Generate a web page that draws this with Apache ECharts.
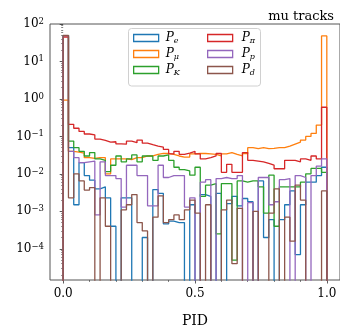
<!DOCTYPE html>
<html>
<head>
<meta charset="utf-8">
<script src="https://cdn.jsdelivr.net/npm/echarts@6/dist/echarts.min.js"></script>
<style>
  html, body { margin: 0; padding: 0; background: #ffffff; }
  #chart { width: 340px; height: 333px; }
</style>
</head>
<body>
<div id="chart"></div>
<script>
// PID response histograms for muon tracks: 50 density bins on [0, 1], log-scaled counts.
const binCount = 50;
const binWidth = 0.02;

const pE = [49, 0.05, 0.0015, 0.02, 0.009, 0.0068, 0.004, 0.0045, 0.0023, 0.0004,
  0, 0.0023, 0.0023, 0, 0, 0.0002, 0, 0.0038, 0.003, 0.00046,
  0.00055, 0.0005, 0.0005, 0, 0.0015, 0, 0.0028, 0.0025, 0, 0.003,
  0, 0.0016, 0.0025, 0.0014, 0.0022, 0.0018, 0, 0.0065, 0.0002, 0.0006,
  0, 0.0006, 0.0015, 0.0035, 0.00007, 0.0015, 0.006, 0.006, 0.009, 0.015];

const pMu = [0.93, 0.04, 0.038, 0.036, 0.027, 0.026, 0.027, 0.027, 0.01, 0.025,
  0.025, 0.025, 0.024, 0.027, 0.027, 0.03, 0.03, 0.033, 0.035, 0.035,
  0.033, 0.03, 0.028, 0.028, 0.034, 0.035, 0.035, 0.034, 0.033, 0.03,
  0.034, 0.037, 0.033, 0.03, 0.035, 0.05, 0.047, 0.05, 0.047, 0.048,
  0.05, 0.05, 0.055, 0.062, 0.07, 0.08, 0.1, 0.12, 0.2, 48];

const pK = [49, 0.075, 0.05, 0.04, 0.03, 0.037, 0.025, 0.023, 0.0115, 0.017,
  0.03, 0.021, 0.025, 0.032, 0.021, 0.03, 0.03, 0.023, 0.03, 0.032,
  0.023, 0.015, 0.013, 0.012, 0.0092, 0.015, 0.0025, 0.005, 0.0055, 0.00025,
  0.0055, 0.0055, 0.00005, 0.0065, 0.006, 0.0065, 0.0065, 0.0045, 0.0009, 0.0092,
  0.0004, 0.0045, 0.0045, 0.0045, 0.0045, 0.006, 0.01, 0.014, 0.014, 0.011];

const pPi = [45, 0.21, 0.165, 0.136, 0.116, 0.11, 0.085, 0.078, 0.07, 0.072,
  0.063, 0.062, 0.075, 0.068, 0.08, 0.066, 0.06, 0.055, 0.052, 0.045,
  0.034, 0.04, 0.033, 0.036, 0.04, 0.034, 0.025, 0.027, 0.03, 0.035,
  0.011, 0.018, 0.011, 0.011, 0.037, 0.023, 0.022, 0.021, 0.019, 0.017,
  0.0137, 0.0137, 0.023, 0.023, 0.021, 0.025, 0.023, 0.03, 0.025, 0.6];

const pP = [49, 0.04, 0.027, 0.02, 0.021, 0.022, 0.0008, 0.021, 0.009, 0.009,
  0.0075, 0.0013, 0.017, 0.017, 0.009, 0.009, 0.0014, 0.0014, 0.017, 0.008,
  0.009, 0.009, 0.009, 0.0013, 0.0023, 0, 0.006, 0.007, 0, 0.0075,
  0.008, 0.0075, 0.0075, 0.009, 0, 0.0017, 0, 0.008, 0.008, 0.0015,
  0.0018, 0.007, 0.0075, 0, 0.009, 0.008, 0, 0.009, 0.016, 0.025];

const pD = [49.5, 0.0023, 0.01, 0.0065, 0.0037, 0.0043, 0, 0.0023, 0.0004, 0,
  0, 0.0011, 0.0015, 0.0028, 0.0005, 0.0003, 0, 0.0007, 0.0026, 0.0005,
  0.0006, 0.0008, 0.0006, 0.0011, 0.002, 0.0009, 0, 0.0015, 0, 0,
  0.0011, 0.002, 0.00004, 0.0012, 0, 0, 0.001, 0, 0, 0.0009,
  0.004, 0, 0.0007, 0.00016, 0.005, 0.002, 0, 0, 0, 0.0035];

const seriesNames = ['P_e', 'P_mu', 'P_K', 'P_pi', 'P_p', 'P_d'];
const seriesValues = [pE, pMu, pK, pPi, pP, pD];
const seriesColors = ['#1f77b4', '#ff7f0e', '#2ca02c', '#d62728', '#9467bd', '#8c564b'];
const subscripts = { P_e: 'e', P_mu: 'μ', P_K: 'K', P_pi: 'π', P_p: 'p', P_d: 'd' };

const xMajorTicks = [0, 0.5, 1.0];
const xMinorTicks = [0.1, 0.2, 0.3, 0.4, 0.6, 0.7, 0.8, 0.9];
const yTickExponents = [-4, -3, -2, -1, 0, 1, 2];

const yMin = 1.47e-5, yMax = 100;
const FLOOR = 1e-8; // empty bins drop below the visible range

const edges = Array.from({ length: binCount + 1 }, (_, i) => +(i * binWidth).toFixed(2));
const yMajor = yTickExponents.map(e => Math.pow(10, e));
const yMinor = [];
for (let e = -5; e <= 1; e++) {
  for (let m = 2; m <= 9; m++) {
    const v = m * Math.pow(10, e);
    if (v >= yMin && v <= yMax) yMinor.push(v);
  }
}

// Outline of an unfilled histogram: up from the floor, across each bin, back down.
function stepOutline(vals) {
  const pts = [[edges[0], FLOOR]];
  vals.forEach((v, i) => {
    const y = v > 0 ? v : FLOOR;
    pts.push([edges[i], y], [edges[i + 1], y]);
  });
  pts.push([edges[edges.length - 1], FLOOR]);
  return pts;
}

const serif = 'DejaVu Serif';
const tickColor = '#333';

function legendItems(names) {
  return names.map(n => {
    const c = seriesColors[seriesNames.indexOf(n)];
    return { name: n, itemStyle: { color: 'rgba(0,0,0,0)', borderColor: c, borderWidth: 1.3 } };
  });
}

function legendBlock(left, names, textShift) {
  return {
    left, top: 32,
    data: legendItems(names),
    orient: 'vertical',
    icon: 'rect',
    itemWidth: 25,
    itemHeight: 7,
    itemGap: 3,
    padding: 0,
    selectedMode: false,
    formatter: n => '{p|P}{s|' + subscripts[n] + '}',
    textStyle: {
      color: '#000',
      rich: {
        p: { fontFamily: serif, fontStyle: 'italic', fontSize: 12, lineHeight: 14, verticalAlign: 'middle', padding: [0, 0, 0, textShift] },
        s: { fontFamily: serif, fontStyle: 'italic', fontSize: 8, lineHeight: 4, verticalAlign: 'bottom' }
      }
    },
    z: 10
  };
}

const chart = echarts.init(document.getElementById('chart'), null, { renderer: 'canvas' });

chart.setOption({
  animation: false,
  backgroundColor: '#ffffff',
  title: {
    text: 'mu tracks',
    right: 1,
    top: 5,
    textStyle: { fontFamily: serif, fontSize: 13, fontWeight: 'normal', color: '#000' }
  },
  grid: {
    left: 50, top: 24, width: 290, bottom: 46.3,
    show: true, borderColor: '#555', borderWidth: 1, backgroundColor: 'rgba(0,0,0,0)'
  },
  graphic: [{
    type: 'rect',
    shape: { x: 128.5, y: 28.5, width: 132, height: 57.5, r: 3 },
    style: { fill: 'rgba(255,255,255,0.8)', stroke: '#d0d0d0', lineWidth: 1 },
    z: 9
  }],
  legend: [
    legendBlock(133, ['P_e', 'P_mu', 'P_K'], 2),
    legendBlock(207, ['P_pi', 'P_p', 'P_d'], 4)
  ],
  xAxis: [{
    type: 'value', min: -0.05, max: 1.05,
    name: 'PID', nameLocation: 'middle', nameGap: 34,
    nameTextStyle: { fontFamily: serif, fontSize: 14, color: '#000' },
    axisLine: { show: false },
    splitLine: { show: false },
    axisTick: { show: true, customValues: xMajorTicks, length: 3.5, lineStyle: { color: tickColor, width: 0.8 } },
    axisLabel: {
      customValues: xMajorTicks, margin: 8,
      fontFamily: serif, fontSize: 12, color: '#000',
      formatter: v => v.toFixed(1)
    }
  }, {
    type: 'value', min: -0.05, max: 1.05, position: 'bottom',
    axisLine: { show: false }, splitLine: { show: false },
    axisTick: { show: true, customValues: xMinorTicks, length: 2, lineStyle: { color: tickColor, width: 0.6 } },
    axisLabel: { show: false }
  }],
  yAxis: [{
    type: 'log', logBase: 10, min: yMin, max: yMax,
    axisLine: { show: false }, splitLine: { show: false },
    axisTick: { show: true, customValues: yMajor, length: 3.5, lineStyle: { color: tickColor, width: 0.8 } },
    axisLabel: {
      customValues: yMajor, margin: 6,
      formatter: v => {
        const e = Math.round(Math.log10(v));
        return '{b|10}{s|' + (e < 0 ? '−' + (-e) : e) + '}';
      },
      rich: {
        b: { fontFamily: serif, fontSize: 12, lineHeight: 14, verticalAlign: 'middle', color: '#000' },
        s: { fontFamily: serif, fontSize: 8.5, lineHeight: 4, verticalAlign: 'top', color: '#000' }
      }
    }
  }, {
    type: 'log', logBase: 10, min: yMin, max: yMax, position: 'left',
    axisLine: { show: false }, splitLine: { show: false },
    axisTick: { show: true, customValues: yMinor, length: 2, lineStyle: { color: tickColor, width: 0.6 } },
    axisLabel: { show: false }
  }],
  series: seriesNames.map((name, k) => ({
    name,
    type: 'line',
    xAxisIndex: 0,
    yAxisIndex: 0,
    data: stepOutline(seriesValues[k]),
    symbol: 'none',
    clip: true,
    silent: true,
    lineStyle: { color: seriesColors[k], width: 1.3 },
    itemStyle: { color: seriesColors[k] },
    z: 2 + k
  }))
});
</script>
</body>
</html>
